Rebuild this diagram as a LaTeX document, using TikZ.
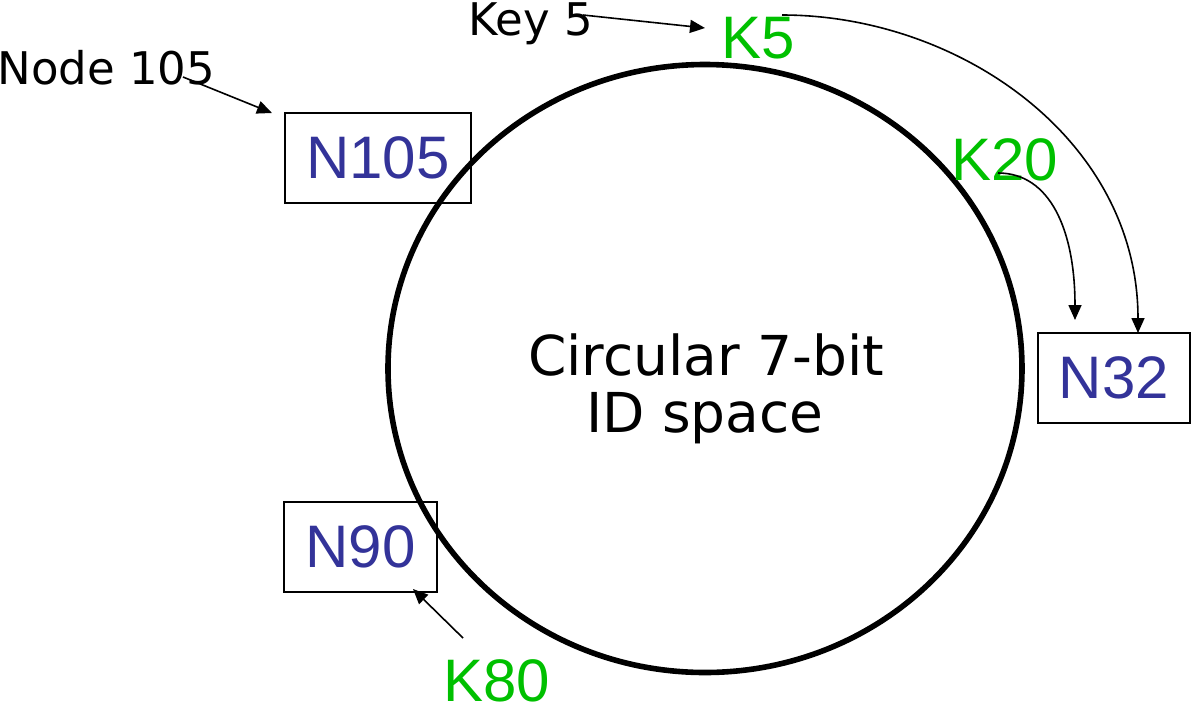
\documentclass[tikz,border=0pt]{standalone}
\usepackage{fontspec}
\setmainfont{Liberation Sans}
\newfontfamily\vfont{DejaVu Sans}
\usetikzlibrary{arrows.meta}
\definecolor{nblue}{HTML}{333399}
\definecolor{kgreen}{HTML}{00C000}
\tikzset{
  box/.style={draw=black, line width=1pt, inner sep=0pt, text=nblue,
    font=\fontsize{30}{36}\selectfont},
  keylbl/.style={inner sep=0pt, text=kgreen, font=\fontsize{30}{36}\selectfont, anchor=base west},
  blacklbl/.style={inner sep=0pt, font=\vfont\fontsize{22.5}{27}\selectfont, anchor=base west},
  midlbl/.style={inner sep=0pt, font=\vfont\fontsize{27.5}{33}\selectfont, anchor=base},
  ptr/.style={line width=0.8pt, -{Triangle[length=7.5pt,width=6.5pt]}},
  ring/.style={line width=2.8pt}
}
\begin{document}
\begin{tikzpicture}[x=0.5pt,y=-0.5pt]
\useasboundingbox (0,0) rectangle (1191,708);
% ring
\draw[ring] (705,368.5) ellipse [x radius=317, y radius=304];
% centre text
\node[midlbl] (c1) at (706,375) {Circular 7-bit};
\node[midlbl] (c2) at (705,432) {ID space};
% boxes
\node[box, minimum width=93pt, minimum height=45pt] (n105) at (378,158) {N105};
\node[box, minimum width=76.5pt, minimum height=45pt] (n90) at (360.5,547) {N90};
\node[box, minimum width=76pt, minimum height=45pt] (n32) at (1114,378) {N32};
% labels
\node[blacklbl] (key5) at (468,35) {Key 5};
\node[blacklbl] (node105) at (-3,84) {Node 105};
\node[keylbl] (k5) at (721,58) {K5};
\node[keylbl] (k20) at (951,180) {K20};
\node[keylbl] (k80) at (443,701) {K80};
% connector ends
\coordinate (key5s) at (583,15);
\coordinate (k5t) at (705,28);
\coordinate (node105s) at (183,77);
\coordinate (n105t) at (272,113);
\coordinate (k80s) at (463,638);
\coordinate (n90t) at (413,589);
\coordinate (k20s) at (998,173);
\coordinate (k20t) at (1075,320);
\coordinate (k5s) at (782,15);
\coordinate (k5n) at (1138,333);
% arrows
\draw[ptr] (key5s) -- (k5t);
\draw[ptr] (node105s) -- (n105t);
\draw[ptr] (k80s) -- (n90t);
\draw[ptr] (k20s) .. controls (1050,173) and (1075,230) .. (k20t);
\draw[ptr] (k5s) .. controls (960,15) and (1138,140) .. (k5n);
\end{tikzpicture}
\end{document}
